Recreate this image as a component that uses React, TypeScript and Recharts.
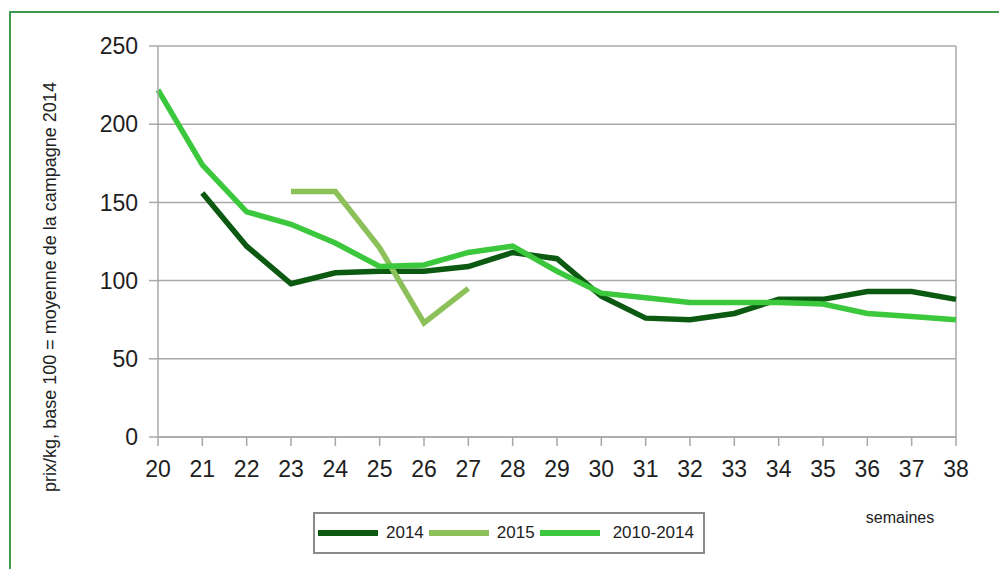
import React from "react";
import {
  LineChart,
  Line,
  XAxis,
  YAxis,
  CartesianGrid,
  ReferenceLine,
  Legend,
} from "recharts";

const weeks = [20, 21, 22, 23, 24, 25, 26, 27, 28, 29, 30, 31, 32, 33, 34, 35, 36, 37, 38];
const s2014 = [null, 156, 122, 98, 105, 106, 106, 109, 118, 114, 90, 76, 75, 79, 88, 88, 93, 93, 88];
const s2015 = [null, null, null, 157, 157, 121, 73, 95, null, null, null, null, null, null, null, null, null, null, null];
const s1014 = [222, 174, 144, 136, 124, 109, 110, 118, 122, 106, 92, 89, 86, 86, 86, 85, 79, 77, 75];
const yTicks = [0, 50, 100, 150, 200, 250];

const series = [
  { key: "y2014", name: "2014", color: "#0c5a12" },
  { key: "y2015", name: "2015", color: "#8cc15a" },
  { key: "y1014", name: "2010-2014", color: "#3cc83c" },
];

const data = weeks.map((w, i) => ({
  week: w,
  y2014: s2014[i],
  y2015: s2015[i],
  y1014: s1014[i],
}));

const FONT = "'Liberation Sans', Arial, sans-serif";
const GRID = "#a8a8a8";

function YLabel() {
  const cx = 50;
  const cy = 287;
  return (
    <text
      x={cx}
      y={cy}
      transform={`rotate(-90 ${cx} ${cy})`}
      textAnchor="middle"
      dominantBaseline="central"
      fontFamily={FONT}
      fontSize={18}
      fill="#222"
    >
      prix/kg, base 100 = moyenne de la campagne 2014
    </text>
  );
}

function XLabel() {
  return (
    <text x={900} y={523} textAnchor="middle" fontFamily={FONT} fontSize={16} fill="#222">
      semaines
    </text>
  );
}

function LegendBox() {
  return (
    <div
      style={{
        width: 392,
        height: 42,
        border: "2px solid #8a8a8a",
        boxSizing: "border-box",
        display: "flex",
        alignItems: "center",
        paddingLeft: 3,
        fontFamily: FONT,
        fontSize: 17,
        color: "#222",
        background: "#fff",
      }}
    >
      {series.map((s, i) => (
        <div key={s.key} style={{ display: "flex", alignItems: "center" }}>
          <div style={{ width: 60, height: 6, background: s.color }} />
          <span style={{ marginLeft: i === 2 ? 13 : 8, marginRight: i === 2 ? 0 : 5 }}>
            {s.name}
          </span>
        </div>
      ))}
    </div>
  );
}

export default function App() {
  return (
    <div
      style={{
        position: "absolute",
        left: 0,
        top: 0,
        width: 999,
        height: 569,
        overflow: "hidden",
        background: "#fff",
      }}
    >
      <div
        style={{
          position: "absolute",
          left: 9,
          top: 11,
          width: 1100,
          height: 700,
          borderTop: "2px solid #3f9a4e",
          borderLeft: "2px solid #3f9a4e",
        }}
      />
      <div style={{ position: "absolute", left: 0, top: 0 }}>
        <LineChart
          width={999}
          height={569}
          data={data}
          margin={{ top: 46, right: 43, bottom: 0, left: 0 }}
        >
          <CartesianGrid vertical={false} stroke={GRID} strokeWidth={1.5} />
          <XAxis
            dataKey="week"
            type="number"
            domain={[20, 38]}
            ticks={weeks}
            interval={0}
            height={132}
            tickSize={9}
            tickMargin={15}
            stroke={GRID}
            strokeWidth={1.5}
            tick={{ fontFamily: FONT, fontSize: 23, fill: "#1e1e1e" }}
            label={<XLabel />}
          />
          <YAxis
            domain={[0, 250]}
            ticks={yTicks}
            interval={0}
            width={158}
            tickSize={9}
            tickMargin={11}
            stroke={GRID}
            strokeWidth={1.5}
            tick={{ fontFamily: FONT, fontSize: 23, fill: "#1e1e1e" }}
            label={<YLabel />}
          />
          <ReferenceLine x={38} stroke={GRID} strokeWidth={1.5} />
          {series.map((s) => (
            <Line
              key={s.key}
              type="linear"
              dataKey={s.key}
              name={s.name}
              stroke={s.color}
              strokeWidth={5.5}
              dot={false}
              activeDot={false}
              isAnimationActive={false}
            />
          ))}
          <Legend
            layout="horizontal"
            verticalAlign="middle"
            align="center"
            content={<LegendBox />}
            wrapperStyle={{ position: "absolute", left: 313, top: 512, width: 392, height: 42 }}
          />
        </LineChart>
      </div>
    </div>
  );
}
